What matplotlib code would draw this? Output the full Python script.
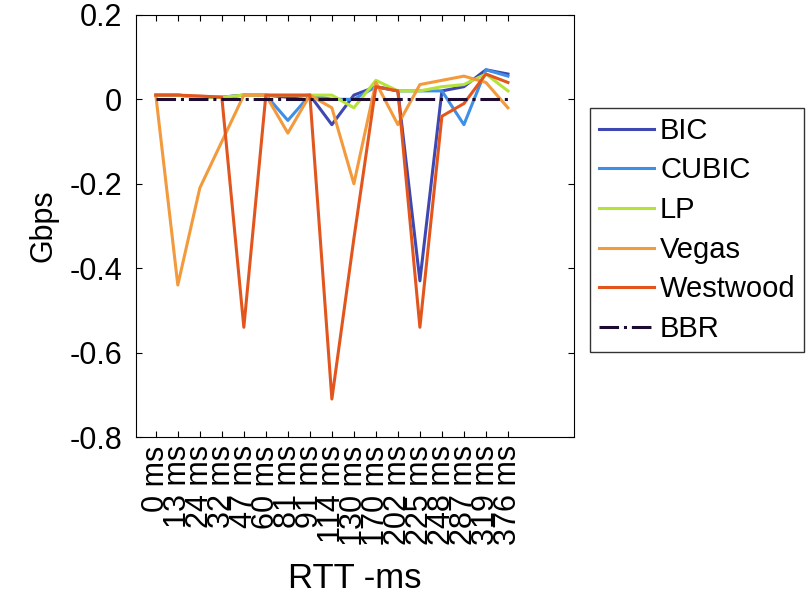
import numpy as np
import matplotlib
matplotlib.use("Agg")
import matplotlib.pyplot as plt

plt.rcParams['font.family'] = ['Liberation Sans', 'DejaVu Sans']

# RTT tick labels
rtt_labels = ["0 ms", "13 ms", "24 ms", "32 ms", "47 ms", "60 ms", "81 ms", "91 ms",
              "114 ms", "130 ms", "170 ms", "202 ms", "225 ms", "248 ms", "287 ms",
              "319 ms", "376 ms"]

# difference to BBR, Gbps
bic      = [0.01, 0.01, 0.005, 0.005, 0.01, 0.01, 0.005, 0.01, -0.06, 0.01, 0.03, 0.02, -0.43, 0.02, 0.03, 0.07, 0.06]
cubic    = [0.01, 0.01, 0.005, 0.005, 0.01, 0.01, -0.05, 0.01, 0.0, 0.0, 0.03, 0.02, 0.02, 0.02, -0.06, 0.07, 0.055]
lp       = [0.01, 0.01, 0.005, 0.005, 0.01, 0.01, 0.01, 0.01, 0.01, -0.02, 0.045, 0.02, 0.02, 0.03, 0.035, 0.06, 0.02]
vegas    = [0.01, -0.44, -0.21, -0.1, 0.01, 0.01, -0.08, 0.01, -0.02, -0.2, 0.04, -0.06, 0.035, 0.045, 0.055, 0.04, -0.02]
westwood = [0.01, 0.01, 0.008, 0.005, -0.54, 0.01, 0.01, 0.01, -0.71, -0.33, 0.03, 0.02, -0.54, -0.04, -0.01, 0.06, 0.04]
bbr      = [0.0] * 17

x = np.arange(1, len(rtt_labels) + 1)

fig = plt.figure(figsize=(8.11, 5.97), dpi=100)
ax = fig.add_axes([0.1677, 0.268, 0.540, 0.707])

ax.plot(x, bic, color="#3F48B0", lw=2.2, label="BIC")
ax.plot(x, cubic, color="#3E8FE8", lw=2.2, label="CUBIC")
ax.plot(x, lp, color="#B6E33A", lw=2.2, label="LP")
ax.plot(x, vegas, color="#F29A3C", lw=2.2, label="Vegas")
ax.plot(x, westwood, color="#E2561E", lw=2.2, label="Westwood")
ax.plot(x, bbr, color="#1C0A30", lw=2.2, ls="-.", label="BBR")

ax.set_xlim(0.1, 20)
ax.set_ylim(-0.8, 0.2)
ax.set_xticks(x)
ax.set_xticklabels(rtt_labels, rotation=90, fontsize=22)
ax.set_yticks([-0.8, -0.6, -0.4, -0.2, 0, 0.2])
ax.set_yticklabels(["-0.8", "-0.6", "-0.4", "-0.2", "0", "0.2"], fontsize=22)
ax.tick_params(direction="in", top=True, right=True, length=4)
ax.tick_params(axis="y", pad=10)
ax.tick_params(axis="x", pad=6)
ax.set_xlabel("RTT -ms", fontsize=25, labelpad=12)
ax.set_ylabel("Gbps", fontsize=22, labelpad=8)

leg = ax.legend(loc="upper left", bbox_to_anchor=(590 / 811, 1 - 108 / 597),
                bbox_transform=fig.transFigure, fontsize=21, frameon=True,
                fancybox=False, edgecolor="black", handlelength=1.9,
                handletextpad=0.2, labelspacing=0.4, borderpad=0.3,
                borderaxespad=0)
leg.get_frame().set_linewidth(1.0)

fig.savefig("out.png", dpi=100)
